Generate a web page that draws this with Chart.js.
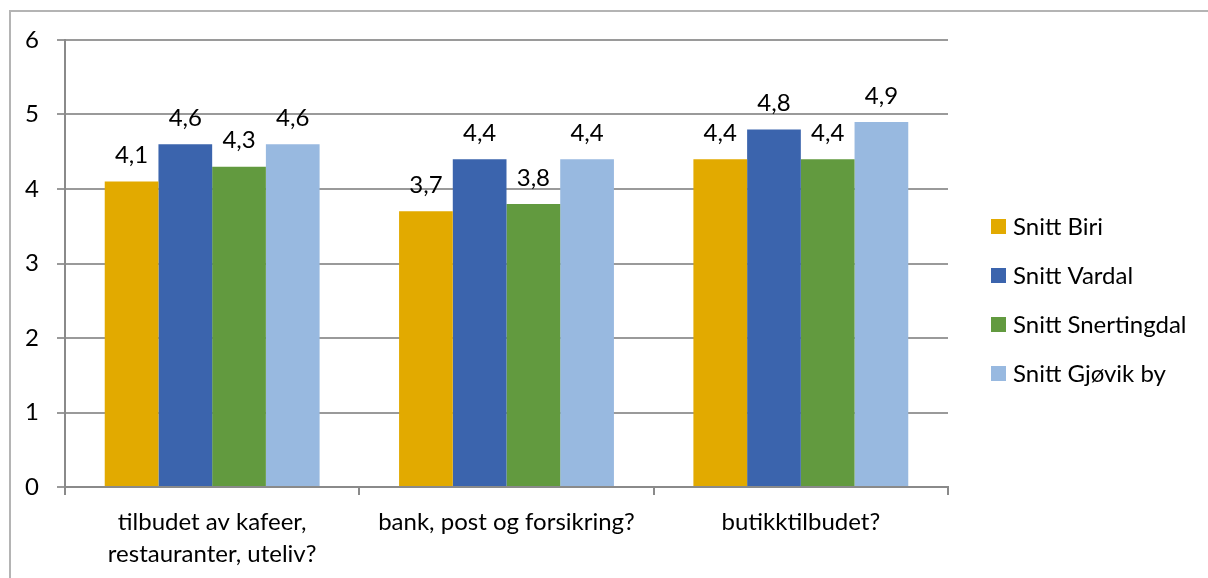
<!DOCTYPE html>
<html>
<head>
<meta charset="utf-8">
<script src="https://cdn.jsdelivr.net/npm/chart.js@4/dist/chart.umd.min.js"></script>
<style>
  html, body { margin: 0; padding: 0; background: #ffffff; }
  #wrap { position: relative; width: 1208px; height: 578px; }
  #frame { position: absolute; left: 9px; top: 10px; right: -2px; bottom: -2px; border: 2px solid #b4b4b4; box-sizing: border-box; }
  canvas { position: absolute; left: 0; top: 0; }
</style>
</head>
<body>
<div id="wrap">
  <div id="frame"></div>
  <canvas id="c" width="1208" height="578"></canvas>
</div>
<script>
// Spørsmål (kategorier) og snittverdier per område
const categories = [
  ['tilbudet av kafeer,', 'restauranter, uteliv?'],
  'bank, post og forsikring?',
  'butikktilbudet?'
];
const seriesNames = ['Snitt Biri', 'Snitt Vardal', 'Snitt Snertingdal', 'Snitt Gjøvik by'];
const snittBiri = [4.1, 3.7, 4.4];
const snittVardal = [4.6, 4.4, 4.8];
const snittSnertingdal = [4.3, 3.8, 4.4];
const snittGjovikBy = [4.6, 4.4, 4.9];
const yTicks = [0, 1, 2, 3, 4, 5, 6];

const colors = ['#E2AA00', '#3B64AD', '#629A3F', '#98B9E0'];
const values = [snittBiri, snittVardal, snittSnertingdal, snittGjovikBy];
const FONT = 'Lato, "Open Sans", sans-serif';
const SIZE = 24;
const fmt = v => v.toFixed(1).replace('.', ',');

// Verdietiketter over hver søyle
const valueLabels = {
  id: 'valueLabels',
  afterDatasetsDraw(chart) {
    const ctx = chart.ctx;
    ctx.save();
    ctx.font = SIZE + 'px ' + FONT;
    ctx.fillStyle = '#000';
    ctx.textAlign = 'center';
    ctx.textBaseline = 'middle';
    chart.data.datasets.forEach((ds, i) => {
      chart.getDatasetMeta(i).data.forEach((bar, j) => {
        ctx.fillText(fmt(ds.data[j]), bar.x, bar.y - 26);
      });
    });
    ctx.restore();
  }
};

// Tegnforklaring til høyre for plottet
const sideLegend = {
  id: 'sideLegend',
  afterDraw(chart) {
    const ctx = chart.ctx;
    const area = chart.chartArea;
    const x0 = area.right + 43;
    const yStart = 227, step = 49;
    ctx.save();
    ctx.font = SIZE + 'px ' + FONT;
    ctx.textBaseline = 'middle';
    ctx.textAlign = 'left';
    chart.data.datasets.forEach((ds, i) => {
      const y = yStart + i * step;
      ctx.fillStyle = ds.backgroundColor;
      ctx.fillRect(x0, y - 8, 15, 15);
      ctx.fillStyle = '#000';
      ctx.fillText(ds.label, x0 + 22, y);
    });
    ctx.restore();
  }
};

new Chart(document.getElementById('c'), {
  type: 'bar',
  data: {
    labels: categories,
    datasets: seriesNames.map((name, i) => ({
      label: name,
      data: values[i],
      backgroundColor: colors[i],
      borderWidth: 0,
      categoryPercentage: 0.73,
      barPercentage: 1.0
    }))
  },
  options: {
    responsive: false,
    animation: false,
    devicePixelRatio: 1,
    layout: { padding: { left: 0, top: 40, right: 260, bottom: 0 } },
    plugins: {
      legend: { display: false },
      tooltip: { enabled: false },
      title: { display: false }
    },
    scales: {
      x: {
        afterFit(scale) { scale.height = 91; },
        grid: {
          display: true,
          offset: true,
          drawOnChartArea: false,
          drawTicks: true,
          tickLength: 8,
          color: '#8a8a8a',
          lineWidth: 2
        },
        border: { display: true, color: '#8a8a8a', width: 2 },
        ticks: {
          color: '#000',
          font: { family: FONT, size: SIZE, lineHeight: 1.3 },
          padding: 12,
          maxRotation: 0,
          autoSkip: false
        }
      },
      y: {
        min: 0,
        max: 6,
        afterFit(scale) { scale.width = 65; },
        afterBuildTicks(scale) { scale.ticks = yTicks.map(v => ({ value: v })); },
        grid: {
          color: '#9a9a9a',
          lineWidth: 2,
          drawTicks: true,
          tickLength: 8
        },
        border: { display: true, color: '#8a8a8a', width: 2 },
        ticks: {
          color: '#000',
          font: { family: FONT, size: SIZE },
          padding: 18,
          callback: v => String(v)
        }
      }
    }
  },
  plugins: [valueLabels, sideLegend]
});
</script>
</body>
</html>
